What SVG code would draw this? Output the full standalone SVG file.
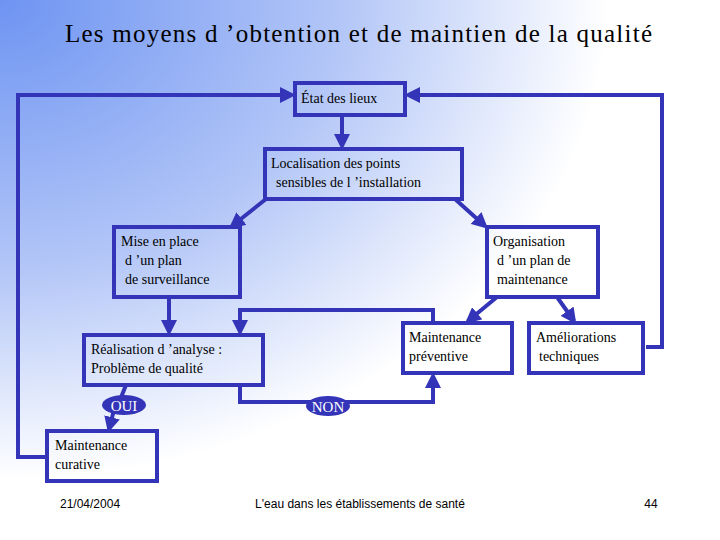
<svg xmlns="http://www.w3.org/2000/svg" width="720" height="540" viewBox="0 0 720 540">
<defs>
<radialGradient id="bg" cx="0" cy="0" r="1" gradientUnits="userSpaceOnUse" gradientTransform="scale(760 600)">
<stop offset="0" stop-color="#6e94f2"/><stop offset="0.45" stop-color="#b3c6f7"/><stop offset="0.8" stop-color="#ffffff"/></radialGradient>
<marker id="a" markerWidth="4" markerHeight="4" refX="3" refY="2" orient="auto" markerUnits="strokeWidth"><path d="M0,0L4,2L0,4z" fill="#3434b8"/></marker>
</defs>
<style>
.b{fill:none;stroke:#3434b8;stroke-width:4}
.c{fill:none;stroke:#3434b8;stroke-width:4;marker-end:url(#a)}
text{font-family:"Liberation Serif",serif;font-size:14px;fill:#000}
.f{font-family:"Liberation Sans",sans-serif;font-size:12px}
.e{fill:#3434b8}
.w{fill:#fff;font-size:15px}
</style>
<rect width="720" height="540" fill="url(#bg)"/>
<text x="65" y="42" textLength="587" lengthAdjust="spacing" style="font-size:25px">Les moyens d ’obtention et de maintien de la qualité</text>
<g id="connectors">
<path class="c" d="M342,115V146"/>
<path class="c" d="M266,199L232,226"/>
<path class="c" d="M455,199L485,226"/>
<path class="c" d="M169,297V332"/>
<path class="c" d="M433,323V310H240V332"/>
<path class="c" d="M240,385V402H433V376"/>
<path class="c" d="M497,297L468,321"/>
<path class="c" d="M557,297L574,321"/>
<path class="b" d="M126,385L120,400"/>
<path class="c" d="M114,410L109,429"/>
<path class="c" d="M47,457H18V95H292"/>
<path class="c" d="M646,347H662V95H408"/>
</g>
<g id="etat"><rect class="b" x="295" y="83" width="110" height="32"/><text x="301" y="103">État des lieux</text></g>
<g id="localisation"><rect class="b" x="265" y="149" width="197" height="50"/><text x="271" y="168">Localisation des points</text><text x="276" y="187">sensibles de l ’installation</text></g>
<g id="mise"><rect class="b" x="114" y="227" width="126" height="70"/><text x="121" y="246">Mise en place</text><text x="125" y="265">d ’un plan</text><text x="125" y="284">de surveillance</text></g>
<g id="organisation"><rect class="b" x="487" y="227" width="111" height="70"/><text x="493" y="246">Organisation</text><text x="497" y="265">d ’un plan de</text><text x="497" y="284">maintenance</text></g>
<g id="realisation"><rect class="b" x="84" y="335" width="179" height="50"/><text x="91" y="354">Réalisation d ’analyse :</text><text x="91" y="373">Problème de qualité</text></g>
<g id="preventive"><rect class="b" x="403" y="323" width="109" height="50"/><text x="409" y="342">Maintenance</text><text x="409" y="361">préventive</text></g>
<g id="ameliorations"><rect class="b" x="529" y="323" width="114" height="50"/><text x="536" y="342">Améliorations</text><text x="539" y="361">techniques</text></g>
<g id="curative"><rect class="b" x="47" y="431" width="110" height="50"/><text x="55" y="450">Maintenance</text><text x="55" y="469">curative</text></g>
<g id="oui"><ellipse class="e" cx="124" cy="405" rx="22" ry="10"/><text class="w" x="124" y="411" text-anchor="middle">OUI</text></g>
<g id="non"><ellipse class="e" cx="328" cy="406" rx="22" ry="10"/><text class="w" x="328" y="412" text-anchor="middle">NON</text></g>
<text class="f" x="60" y="508">21/04/2004</text>
<text class="f" x="360" y="508" text-anchor="middle">L'eau dans les établissements de santé</text>
<text class="f" x="651" y="508" text-anchor="middle">44</text>
</svg>
